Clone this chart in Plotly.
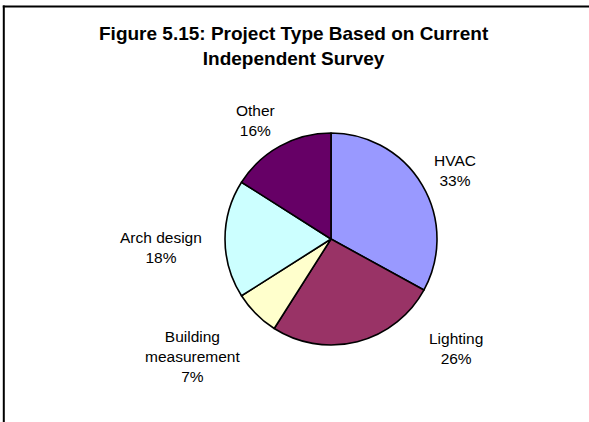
import plotly.graph_objects as go

# Survey breakdown of project types
categories = ["HVAC", "Lighting", "Building measurement", "Arch design", "Other"]
shares = [33, 26, 7, 18, 16]
slice_colors = ["#9999FF", "#993366", "#FFFFCC", "#CCFFFF", "#660066"]

W, H = 589, 422

# Pie placement in pixels (centre and radius)
cx, cy, r = 331, 239, 106

# Label block centres in pixels, one per category
label_pos = [(455, 170), (456, 348), (192, 356), (161, 247), (255, 120)]

fig = go.Figure(
    go.Pie(
        labels=categories,
        values=shares,
        sort=False,
        direction="clockwise",
        rotation=0,
        textinfo="none",
        marker=dict(colors=slice_colors, line=dict(color="black", width=1.6)),
        domain=dict(x=[(cx - r) / W, (cx + r) / W],
                    y=[1 - (cy + r) / H, 1 - (cy - r) / H]),
        showlegend=False,
    )
)

total = sum(shares)
annotations = []
for name, v, (px, py) in zip(categories, shares, label_pos):
    shown = name.replace(" ", "<br>") if len(name) > 12 else name
    annotations.append(dict(
        x=px / W, y=1 - py / H, xref="paper", yref="paper",
        xanchor="center", yanchor="middle", showarrow=False,
        text=f"{shown}<br>{round(v / total * 100)}%",
        font=dict(family="Liberation Sans, Arial", size=15.5, color="black"),
    ))

annotations.append(dict(
    x=293.5 / W, y=1 - 46 / H, xref="paper", yref="paper",
    xanchor="center", yanchor="middle", showarrow=False,
    text="<b>Figure 5.15: Project Type Based on Current<br>Independent Survey</b>",
    font=dict(family="Liberation Sans, Arial", size=19, color="black"),
))

# Frame: left and top edges of the chart border
shapes = [
    dict(type="line", xref="paper", yref="paper",
         x0=3.8 / W, x1=3.8 / W, y0=-0.05, y1=1 - 5.6 / H,
         line=dict(color="black", width=2)),
    dict(type="line", xref="paper", yref="paper",
         x0=2.8 / W, x1=1.05, y0=1 - 6.5 / H, y1=1 - 6.5 / H,
         line=dict(color="black", width=2)),
]

fig.update_layout(
    width=W, height=H,
    margin=dict(l=0, r=0, t=0, b=0),
    paper_bgcolor="white",
    plot_bgcolor="white",
    annotations=annotations,
    shapes=shapes,
)

fig.write_html("out.html")
